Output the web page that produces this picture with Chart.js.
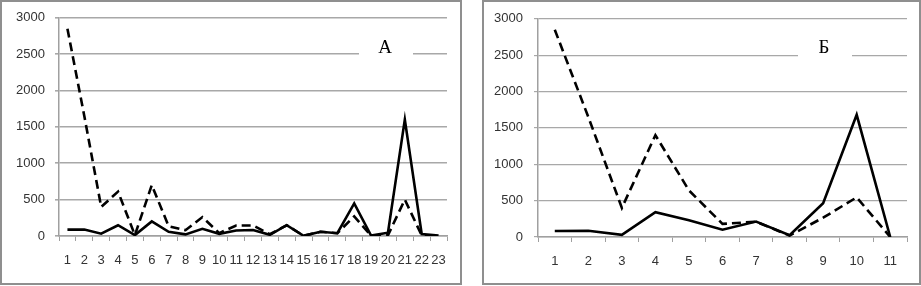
<!DOCTYPE html>
<html>
<head>
<meta charset="utf-8">
<script src="https://cdn.jsdelivr.net/npm/chart.js@4.4.1/dist/chart.umd.min.js"></script>
<style>
  html, body { margin: 0; padding: 0; background: #fff; }
  body { width: 921px; height: 286px; position: relative; overflow: hidden; }
  canvas { position: absolute; top: 0; }
  .frame { position: absolute; top: 0; height: 285px; border: 2px solid #8f8f8f; box-sizing: border-box; pointer-events: none; }
</style>
</head>
<body>
<canvas id="chartA" width="461" height="285" style="left:0"></canvas>
<canvas id="chartB" width="438" height="285" style="left:483px"></canvas>
<div class="frame" style="left:0; width:462px"></div>
<div class="frame" style="left:482px; width:439px"></div>
<script>
// panel A (23 points)
const labelsA = ['1','2','3','4','5','6','7','8','9','10','11','12','13','14','15','16','17','18','19','20','21','22','23'];
const solidA = [88, 90, 32, 148, 12, 200, 58, 22, 98, 30, 75, 82, 16, 148, 3, 58, 38, 448, 6, 45, 1600, 28, 6];
const dashedA = [2850, 1650, 400, 610, 12, 700, 135, 80, 260, 40, 145, 145, 25, 148, 3, 58, 38, 270, 6, 10, 500, 8, 6];

// panel Б (11 points)
const labelsB = ['1','2','3','4','5','6','7','8','9','10','11'];
const solidB = [82, 85, 30, 340, 230, 100, 212, 25, 465, 1680, 0];
const dashedB = [2850, 1650, 400, 1400, 640, 180, 210, 20, 265, 545, 0];

function makeChart(id, labels, solid, dashed, title, geo) {
    const ctx = document.getElementById(id).getContext('2d');

    // white box with the panel letter, over the grid
    const titlePlugin = {
        id: 'letter',
        afterDraw(chart) {
            const c = chart.ctx;
            c.save();
            c.fillStyle = '#fff';
            c.fillRect(geo.tx - 26, geo.ty - 14, 54, 28);
            c.fillStyle = '#000';
            c.font = '19px "Liberation Serif", serif';
            c.textAlign = 'center';
            c.textBaseline = 'middle';
            c.fillText(title, geo.tx, geo.ty + 1);
            c.restore();
        }
    };

    return new Chart(ctx, {
        type: 'line',
        data: {
            labels: labels,
            datasets: [
                {
                    data: solid,
                    borderColor: '#000',
                    borderWidth: 2.6,
                    pointRadius: 0,
                    tension: 0,
                },
                {
                    data: dashed,
                    borderColor: '#000',
                    borderWidth: 2.6,
                    borderDash: [9, 5],
                    pointRadius: 0,
                    tension: 0,
                },
            ],
        },
        options: {
            responsive: false,
            animation: false,
            events: [],
            layout: { padding: { top: 17, right: 14, left: 0, bottom: 0 } },
            plugins: { legend: { display: false }, tooltip: { enabled: false } },
            scales: {
                x: {
                    offset: true,
                    grid: { offset: true, drawOnChartArea: false, drawTicks: true, tickLength: 5, color: '#a0a0a0' },
                    border: { color: '#a0a0a0', width: 1.5 },
                    ticks: {
                        autoSkip: false, maxRotation: 0, padding: 12,
                        color: '#333', font: { family: '"Liberation Sans", sans-serif', size: 13 },
                    },
                    afterFit: s => { s.height = geo.xh; },
                },
                y: {
                    min: 0, max: 3000,
                    ticks: {
                        stepSize: 500, padding: geo.ypad,
                        color: '#333', font: { family: '"Liberation Sans", sans-serif', size: 13 },
                        callback: v => String(v),
                    },
                    grid: { color: '#a8a8a8', lineWidth: geo.glw, tickLength: 4 },
                    border: { color: '#a0a0a0', width: 1.5 },
                    afterFit: s => { s.width = geo.yw; },
                },
            },
        },
        plugins: [titlePlugin],
    });
}

makeChart('chartA', labelsA, solidA, dashedA, 'A', { yw: 59, xh: 49, ypad: 10, glw: 1.6, tx: 385, ty: 47 });
makeChart('chartB', labelsB, solidB, dashedB, 'Б', { yw: 55, xh: 48, ypad: 11, glw: 1.2, tx: 341, ty: 47 });
</script>
</body>
</html>
